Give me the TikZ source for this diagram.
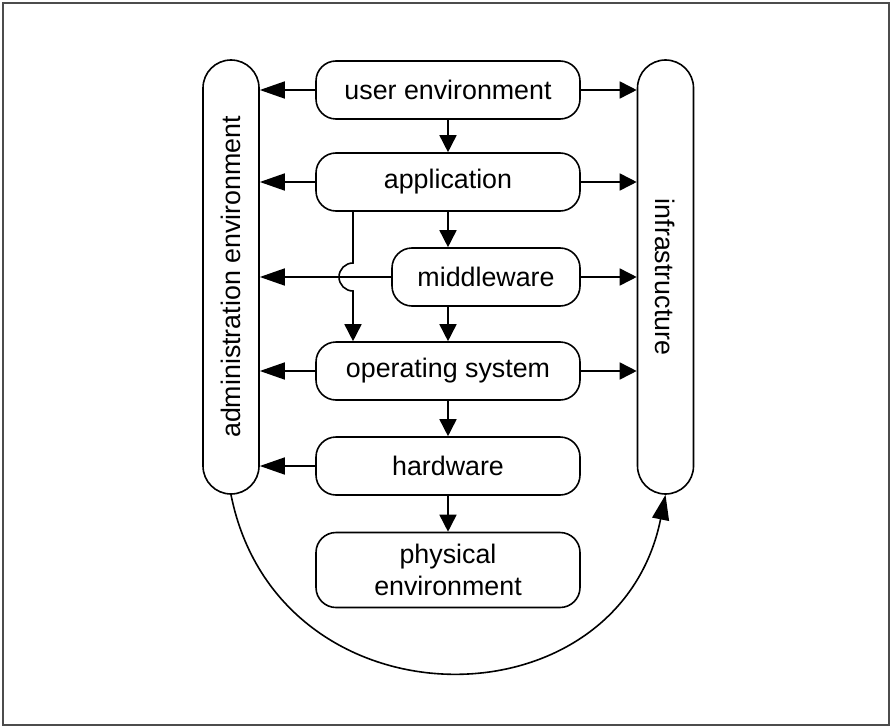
\documentclass[tikz,border=0pt]{standalone}
\usepackage{fontspec}
\setmainfont{Liberation Sans}
\usetikzlibrary{positioning}
\usetikzlibrary{arrows.meta}

\begin{document}
\begin{tikzpicture}[x=0.5pt,y=-0.5pt]
 \tikzset{layer/.style={
 		draw, line width=0.8pt,
 		rounded corners=10pt,
 		minimum width=#1, minimum height=29pt,
 		align=center, inner sep=2pt,
 		font=\fontsize{13.4}{16}\selectfont
 	},
 	layer/.default=132pt,
 	side/.style={
 		draw, line width=0.8pt,
 		rounded corners=14pt,
 		minimum width=217pt, minimum height=28pt,
 		inner sep=0pt,
 		font=\fontsize{13.4}{16}\selectfont
 	},
 	flow/.style={-{Triangle[length=8.5pt,width=8.5pt]}, line width=0.8pt},
 	back/.style={-{Triangle[length=12.5pt,width=8.5pt]}, line width=0.8pt}
 }
 \useasboundingbox (0,0) rectangle (892,727);
 \draw[black!70, line width=1pt] (3,3) rectangle (889,725);

 % side columns
 \node[side, rotate=90] (admin) at (231,277) {administration environment};
 \node[side, rotate=-90] (infra) at (665.5,277) {infrastructure};

 % layers
 \node[layer] (user) at (448,90) {user environment};
 \node[layer] (app) at (448,182) {application};
 \node[layer=94pt] (mw) at (486,277) {middleware};
 \node[layer] (os) at (448,371) {operating system};
 \node[layer] (hw) at (448,466) {hardware};
 \node[layer, minimum height=37.5pt] (phys) at (448,570) {physical\\environment};
 \coordinate (jump) at (353,277);

 % downward
 \draw[flow] (user) -- (app);
 \draw[flow] (app.south) -- (app.south |- mw.north);
 \draw[flow] (mw.south -| os.north) -- (os);
 \draw[flow] (os) -- (hw);
 \draw[flow] (hw) -- (phys);
 \draw[flow] (app.south -| jump) -- ([yshift=7pt]jump)
 	arc[start angle=90, end angle=270, radius=7pt] -- (os.north -| jump);

 % to the sides
 \foreach \n in {user, app, mw, os, hw}
 	\draw[back] (\n.west) -- (\n.west -| admin.south);
 \foreach \n in {user, app, mw, os}
 	\draw[flow] (\n.east) -- (\n.east -| infra.south);

 \draw[back] (admin.west) .. controls (278,730) and (618,730) .. (infra.east);
\end{tikzpicture}
\end{document}
